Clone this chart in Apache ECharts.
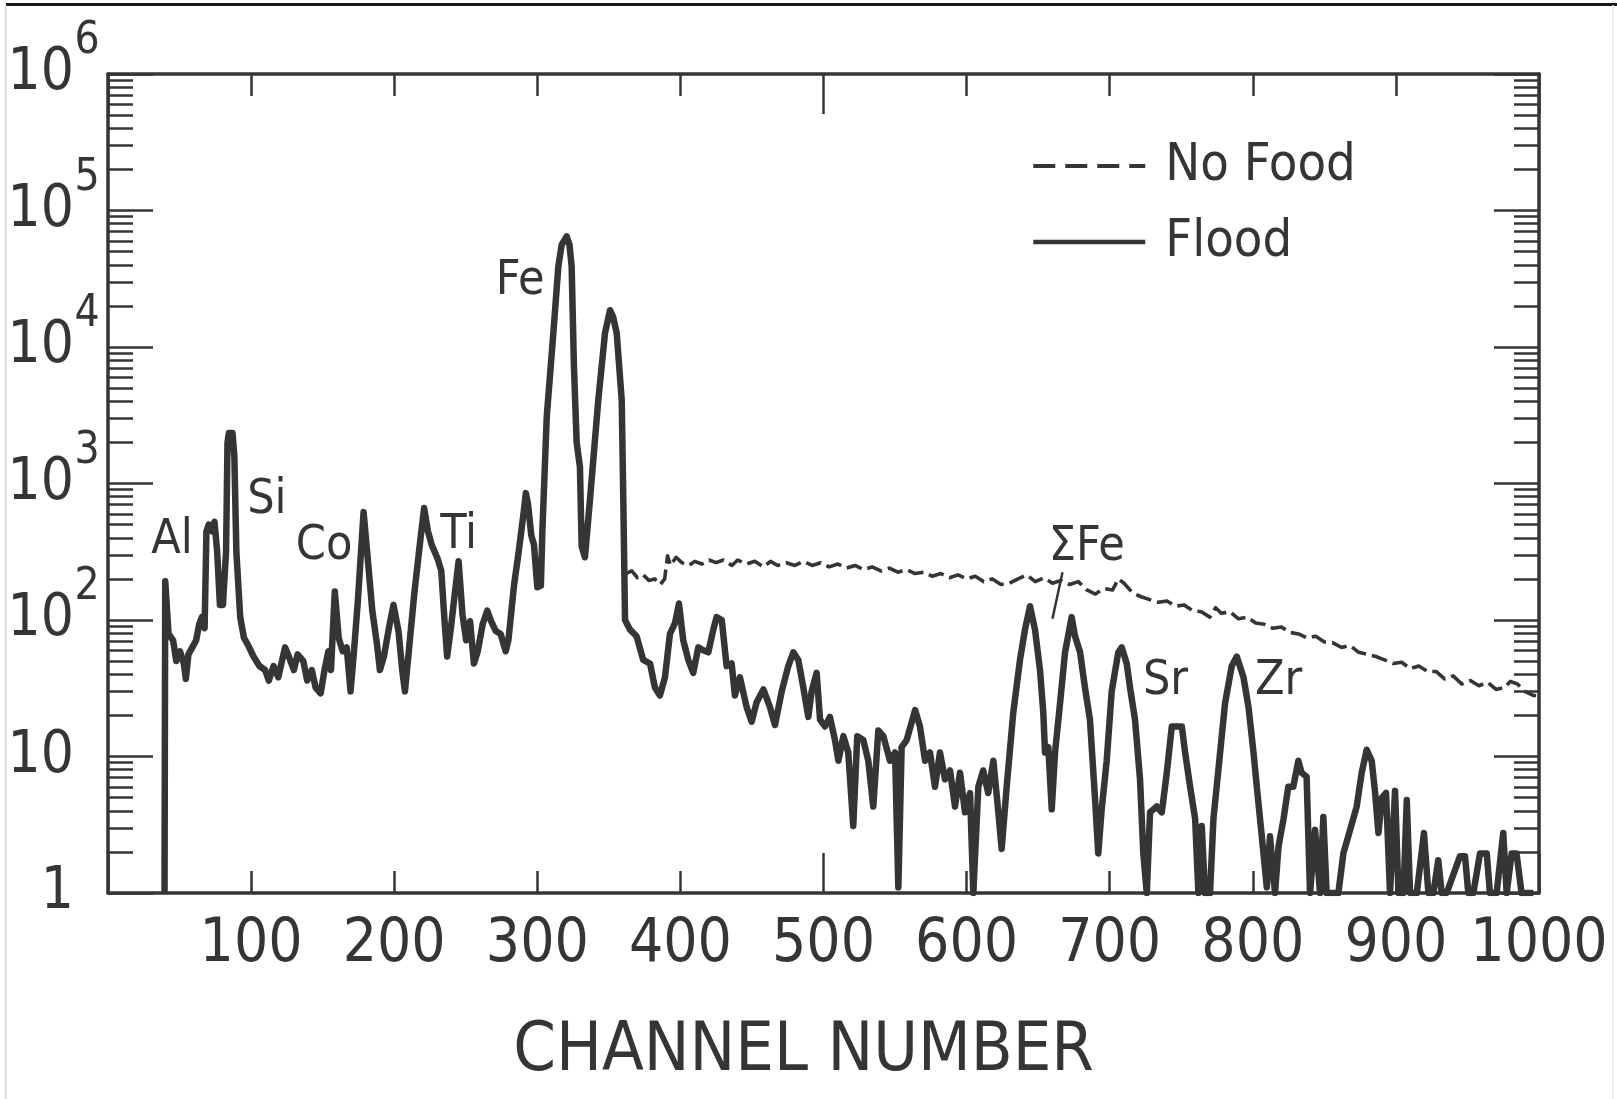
<!DOCTYPE html>
<html>
<head>
<meta charset="utf-8">
<script src="https://cdn.jsdelivr.net/npm/echarts@6.0.0/dist/echarts.min.js"></script>
<style>
  html, body { margin: 0; padding: 0; background: #ffffff; }
  #chart { width: 1617px; height: 1099px; }
</style>
</head>
<body>
<div id="chart"></div>
<script>
// X-ray fluorescence spectrum: counts per channel, with and without the flood.

const floodChannel = [
  39.5, 40, 42.3, 45.5, 47.7, 50.3, 53, 54.4, 56.2, 58.9, 61.6, 63.7, 65.6, 67.5, 68.8, 70.4, 72.8, 74.4, 76.3, 78.2,
  80.3, 82.5, 83.5, 84.5, 87, 88.3, 89.7, 92.4, 95, 97.7, 101.7, 105.8, 109.8, 112.4, 115.7, 119, 123.7, 126.4, 129.9, 132.5,
  136.5, 139.2, 142.4, 145.1, 148.6, 151.3, 154, 155.8, 158.5, 161.2, 164, 166.8, 169.5, 171.9, 174.6, 178.6, 181.5, 184.7, 188, 190,
  192.8, 196.8, 199.5, 203, 205.6, 207.5, 210.2, 214.2, 218.2, 220.9, 223.6, 226.2, 230.3, 232.9, 235, 237, 239.6, 242.3, 245, 247.7,
  250.3, 253, 255.7, 258.4, 261.8, 265, 267.7, 271, 274.4, 277.9, 279.8, 283.8, 287, 290.5, 292, 293.5, 295.8, 297.7, 300, 302.5,
  303.5, 306.6, 311.2, 314.7, 317, 320.5, 322.5, 324, 325.6, 327.5, 329.8, 331, 333.3, 336.8, 342.6, 347.3, 350.8, 353, 355.5, 359,
  360.1, 361.3, 364.8, 369.4, 374, 378.8, 382.2, 385.7, 389.2, 392.7, 396.2, 399, 402, 405.5, 409, 412.5, 416, 419.5, 423, 425.3,
  428.9, 432.3, 435.8, 438.1, 441.6, 446.3, 449.8, 453.3, 458, 462.6, 466.1, 470.8, 475.4, 478.9, 482.4, 485.9, 489.4, 491.7, 495.2, 497.6,
  501, 504.5, 508, 510.4, 513.9, 517.3, 520.8, 523.6, 527.8, 531.3, 534.8, 538.3, 541.8, 546.5, 550, 552.3, 554.6, 558.1, 564, 567.4,
  571, 574.4, 577.9, 581.4, 584.9, 588.4, 591.9, 595.4, 598.9, 602.4, 604.7, 608.2, 611.6, 615.1, 618.7, 622.2, 624.5, 628, 632.6, 637.3,
  640.8, 644.3, 647.8, 651.3, 653.6, 654.8, 657.1, 659.5, 661.8, 665.3, 668.8, 673.4, 675.8, 679.3, 682.7, 686.2, 689.7, 692, 694.4, 697.9,
  701.4, 706, 708.4, 711.9, 714.2, 717.7, 721.2, 723.5, 725.9, 728.2, 732.9, 736.4, 739.9, 743.4, 750.4, 752.7, 756.2, 759.7, 762, 764.3,
  766.6, 770.1, 772.5, 775.9, 780.6, 785.3, 788.8, 793.5, 797, 800.5, 802.8, 806.3, 809.8, 812, 815.5, 818, 821.5, 824.8, 828.3, 831.8,
  834.1, 837.6, 840, 843.5, 847, 849.3, 851.6, 855.1, 859.8, 863.3, 868, 872.6, 876.1, 879.6, 883.1, 885.5, 887.8, 890.2, 893.1, 895.9,
  899.4, 901.8, 905.3, 907.6, 909.9, 914.6, 919.6, 922.7, 926.2, 929.6, 932, 935.5, 944.8, 948.3, 950.6, 954.1, 958.8, 963.5, 965.7, 970.4,
  975, 977.4, 980.9, 984.3, 987.8, 996
];

const floodCounts = [
  1, 192, 79, 71, 50, 59, 48, 37, 56, 63, 71, 93, 105, 87, 447, 500, 447, 525, 316, 129,
  129, 316, 2000, 2340, 2340, 1580, 316, 105, 74, 66, 54, 46, 43, 36, 46, 38, 63, 54, 43, 56,
  50, 36, 43, 32, 29, 43, 59, 43, 162, 74, 59, 63, 30, 59, 138, 617, 282, 117, 66, 43,
  54, 93, 129, 83, 43, 30, 59, 162, 380, 661, 447, 355, 282, 229, 105, 54, 87, 155, 269, 110,
  71, 98, 48, 59, 93, 117, 98, 83, 79, 59, 71, 182, 316, 617, 850, 710, 417, 355, 174, 178,
  437, 3090, 12600, 38900, 56000, 64600, 56000, 38900, 7240, 2000, 1320, 347, 288, 759, 4070, 12600, 18600, 16600, 12600, 4070,
  759, 100, 85, 76, 51, 48, 32, 28, 38, 79, 95, 132, 71, 51, 41, 63, 60, 58, 85, 105,
  100, 46, 48, 28, 38, 23, 18, 25, 31, 23, 17, 30, 46, 58, 51, 32, 19.5, 30, 41, 18.6,
  16.6, 19.5, 13.2, 9.3, 14.1, 10.7, 3.1, 14.1, 13.2, 9.3, 4.3, 15.5, 14.1, 9.3, 10.7, 1.1, 11.7, 13.2, 21.9, 16.6,
  9.3, 10.7, 6.0, 10.7, 6.8, 7.9, 4.3, 7.6, 3.9, 5.4, 1, 6.0, 7.9, 5.4, 9.3, 3.9, 2.1, 6.0, 20.9, 51,
  85, 126, 85, 43, 20.9, 10.7, 11.7, 4.1, 10.7, 24.5, 58, 105, 76, 58, 32, 18.6, 5.0, 1.95, 4.1, 9.3,
  30, 58, 63, 48, 32, 18.6, 6.8, 1.95, 1, 3.9, 4.3, 3.9, 7.6, 16.6, 16.6, 10.7, 6.0, 3.5, 1, 3.1,
  1, 1, 3.5, 7.9, 24.5, 46, 54, 38, 23, 10.7, 6.0, 2.6, 1.1, 2.6, 1, 2.2, 3.5, 6.0, 6.0, 9.3,
  7.6, 7.1, 1, 2.9, 1, 3.6, 1, 1, 1, 1.95, 2.9, 4.3, 7.6, 11.2, 9.3, 5.4, 2.75, 5.0, 5.4, 1,
  5.6, 1, 1, 4.8, 1, 1, 2.75, 1, 1, 1.74, 1, 1, 1.86, 1.86, 1, 1, 1.95, 1.95, 1, 1,
  2.75, 1, 1.95, 1.95, 1, 1
];

const noFoodChannel = [
  362, 366, 370, 374, 378, 382, 386, 389, 391, 393, 397, 401, 406, 410, 415, 420, 425, 430, 436, 440,
  446, 452, 458, 463, 468, 474, 480, 486, 492, 498, 504, 510, 516, 522, 528, 534, 540, 546, 552, 558,
  564, 570, 576, 582, 588, 594, 600, 606, 612, 618, 624, 630, 636, 642, 648, 654, 660, 666, 672, 678,
  684, 690, 696, 702, 706, 710, 716, 722, 728, 734, 740, 746, 752, 758, 764, 770, 774, 778, 784, 790,
  796, 802, 808, 814, 820, 826, 832, 838, 844, 850, 856, 862, 868, 874, 880, 886, 892, 898, 904, 910,
  916, 922, 928, 934, 940, 946, 952, 958, 964, 970, 976, 980, 985, 990, 996, 998
];

const noFoodCounts = [
  219, 229, 204, 214, 195, 200, 182, 200, 295, 251, 288, 263, 251, 269, 257, 275, 263, 275, 251, 275,
  257, 269, 245, 269, 251, 263, 251, 269, 251, 263, 245, 257, 240, 251, 234, 245, 229, 240, 224, 234,
  219, 224, 209, 219, 204, 214, 200, 209, 191, 200, 182, 186, 200, 214, 191, 204, 186, 195, 182, 191,
  166, 155, 170, 166, 200, 186, 158, 148, 141, 135, 138, 126, 129, 117, 115, 105, 123, 112, 115, 102,
  105, 95, 93, 87, 89, 81, 79, 74, 76, 69, 68, 63, 65, 58, 56, 54, 51, 48, 49, 44,
  46, 42, 42, 37, 39, 34, 36, 33, 35, 31, 32, 35.5, 34, 30, 28, 28
];

// Peak names, anchored in channel / count units
const elementNames    = ['Al', 'Si', 'Co', 'Ti', 'Fe', 'ΣFe', 'Sr', 'Zr'];
const elementChannels = [44.7, 111, 151, 245, 288, 684, 739, 818];
const elementCounts   = [385, 745, 343, 419, 30400, 337, 35.7, 35.7];

// Leader from the ΣFe label down to its peak
const sumFeLeaderChannels = [667, 660];
const sumFeLeaderCounts   = [224, 102];

// Tick labels
const xTickValues = [100, 200, 300, 400, 500, 600, 700, 800, 900, 1000];
const xTickLabels = ['100', '200', '300', '400', '500', '600', '700', '800', '900', '1000'];
const yTickPowers = [0, 1, 2, 3, 4, 5, 6];
const yTickBases  = ['1', '10', '10', '10', '10', '10', '10'];
const yTickExps   = [' ', ' ', '2', '3', '4', '5', '6'];

const FONT = "'Liberation Sans Narrow', 'DejaVu Sans Condensed', 'Liberation Sans', sans-serif";
const INK = '#353535';

const zip = (xs, ys) => xs.map((x, i) => [x, ys[i]]);

const frameLine = { show: true, onZero: false, lineStyle: { color: INK, width: 3.5 } };
const hiddenLine = { show: false, onZero: false };
const tickLine = { color: INK, width: 2.5 };

function xLabel(v) {
  const i = xTickValues.indexOf(Math.round(v));
  return i < 0 ? '' : xTickLabels[i];
}

function yLabel(v) {
  const i = yTickPowers.indexOf(Math.round(Math.log10(v)));
  if (i < 0) return '';
  const base = yTickBases[i].length === 1 ? '{o|' + yTickBases[i] + '}' : '{b|' + yTickBases[i] + '}';
  return base + '{e|' + yTickExps[i] + '}';
}

const chart = echarts.init(document.getElementById('chart'), null, { renderer: 'canvas' });

chart.setOption({
  animation: false,
  backgroundColor: '#ffffff',
  textStyle: { fontFamily: FONT, color: INK },
  grid: { left: 108, right: 78, top: 74, bottom: 206, outerBoundsMode: 'none' },
  graphic: [
    { type: 'rect', silent: true, shape: { x: 6, y: 3, width: 1611, height: 3 }, style: { fill: '#161616' } },
    { type: 'rect', silent: true, shape: { x: 5, y: 5, width: 1.5, height: 1094 }, style: { fill: '#d4d4d4' } },
    { type: 'rect', silent: true, shape: { x: 1612, y: 5, width: 1.5, height: 1094 }, style: { fill: '#ececec' } }
  ],
  legend: {
    orient: 'vertical',
    left: 1031,
    top: 140,
    padding: 0,
    itemWidth: 112,
    itemHeight: 14,
    itemGap: 24,
    selectedMode: false,
    data: [
      { name: 'No Food', lineStyle: { type: [22, 10], width: 4 } },
      { name: 'Flood', lineStyle: { width: 4.5 } }
    ],
    lineStyle: { width: 4 },
    itemStyle: { color: 'rgba(0,0,0,0)', borderColor: 'rgba(0,0,0,0)', borderWidth: 0, opacity: 0 },
    textStyle: { fontFamily: FONT, fontSize: 52, lineHeight: 52, color: INK, padding: [0, 0, 0, 15] }
  },
  xAxis: [
    {
      type: 'value', min: 0, max: 1000, interval: 100, position: 'bottom',
      axisLine: frameLine,
      axisTick: { show: true, inside: true, length: 22, lineStyle: tickLine },
      axisLabel: { formatter: xLabel, fontFamily: FONT, fontSize: 60, lineHeight: 60, margin: 22, color: INK },
      splitLine: { show: false },
      name: 'CHANNEL NUMBER', nameLocation: 'middle', nameGap: 125,
      nameTextStyle: { fontFamily: FONT, fontSize: 68, lineHeight: 68, color: INK, padding: [0, 40, 0, 0] }
    },
    {
      type: 'value', min: 0, max: 1000, interval: 100, position: 'top',
      axisLine: frameLine,
      axisTick: { show: true, inside: true, length: 22, lineStyle: tickLine },
      axisLabel: { show: false }, splitLine: { show: false }
    },
    {
      type: 'value', min: 0, max: 1000, interval: 500, position: 'bottom',
      axisLine: hiddenLine,
      axisTick: { show: true, inside: true, length: 40, lineStyle: tickLine },
      axisLabel: { show: false }, splitLine: { show: false }
    },
    {
      type: 'value', min: 0, max: 1000, interval: 500, position: 'top',
      axisLine: hiddenLine,
      axisTick: { show: true, inside: true, length: 40, lineStyle: tickLine },
      axisLabel: { show: false }, splitLine: { show: false }
    }
  ],
  yAxis: [
    {
      type: 'log', logBase: 10, min: 1, max: 1e6, position: 'left',
      axisLine: frameLine,
      axisTick: { show: true, inside: true, length: 45, lineStyle: tickLine },
      minorTick: { show: true, splitNumber: 9, length: 25, lineStyle: tickLine },
      axisLabel: {
        formatter: yLabel, margin: 8, color: INK,
        rich: {
          b: { fontFamily: FONT, fontSize: 58, lineHeight: 58, color: INK },
          o: { fontFamily: FONT, fontSize: 58, lineHeight: 58, color: INK, padding: [0, 0, 0, 33] },
          e: { fontFamily: FONT, fontSize: 44, lineHeight: 44, width: 26, align: 'left', color: INK,
               padding: [0, 0, 64, 0] }
        }
      },
      splitLine: { show: false }, minorSplitLine: { show: false }
    },
    {
      type: 'log', logBase: 10, min: 1, max: 1e6, position: 'right',
      axisLine: frameLine,
      axisTick: { show: true, inside: true, length: 45, lineStyle: tickLine },
      minorTick: { show: true, splitNumber: 9, length: 25, lineStyle: tickLine },
      axisLabel: { show: false },
      splitLine: { show: false }, minorSplitLine: { show: false }
    }
  ],
  series: [
    {
      name: 'No Food',
      type: 'line',
      xAxisIndex: 0, yAxisIndex: 0,
      data: zip(noFoodChannel, noFoodCounts),
      symbol: 'none',
      z: 2,
      itemStyle: { color: INK },
      lineStyle: { color: INK, width: 3.6, type: [16, 6], join: 'round' },
      markLine: {
        silent: true,
        symbol: ['none', 'none'],
        label: { show: false },
        lineStyle: { type: 'solid', width: 2.5, color: INK },
        data: [[
          { coord: [sumFeLeaderChannels[0], sumFeLeaderCounts[0]] },
          { coord: [sumFeLeaderChannels[1], sumFeLeaderCounts[1]] }
        ]]
      }
    },
    {
      name: 'Flood',
      type: 'line',
      xAxisIndex: 0, yAxisIndex: 0,
      data: zip(floodChannel, floodCounts),
      symbol: 'none',
      z: 3,
      itemStyle: { color: INK },
      lineStyle: { color: INK, width: 6.5, join: 'round' },
      markPoint: {
        silent: true,
        symbol: 'circle',
        symbolSize: 1,
        itemStyle: { color: 'rgba(0,0,0,0)' },
        label: { show: true, position: 'inside', formatter: '{b}', fontFamily: FONT, fontSize: 48, color: INK },
        data: elementNames.map((n, i) => ({ name: n, coord: [elementChannels[i], elementCounts[i]] }))
      }
    }
  ]
});
</script>
</body>
</html>
